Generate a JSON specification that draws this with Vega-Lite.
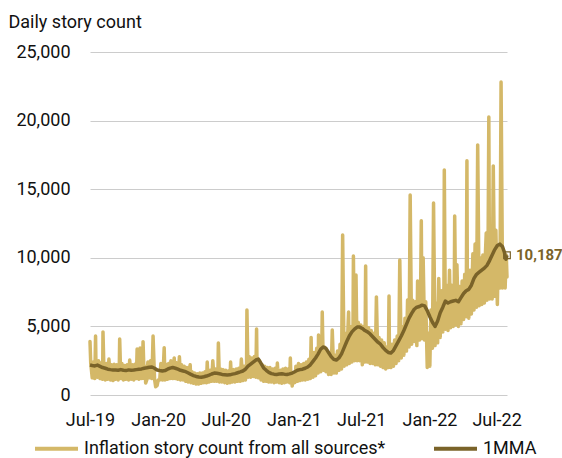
{
  "$schema": "https://vega.github.io/schema/vega-lite/v6.json",
  "width": 417,
  "height": 343,
  "autosize": {"type": "none"},
  "padding": {"left": 90, "top": 52, "right": 55, "bottom": 63},
  "background": "white",
  "config": {"font": "Roboto", "view": {"stroke": null}},
  "datasets": {
    "daily": [
      {"t":"2019-07-01","v":3900},{"t":"2019-07-03","v":2300},{"t":"2019-07-07","v":1250},{"t":"2019-07-10","v":2400},{"t":"2019-07-14","v":1200},{"t":"2019-07-16","v":4300},{"t":"2019-07-17","v":2300},{"t":"2019-07-21","v":1300},{"t":"2019-07-24","v":2500},{"t":"2019-07-28","v":1200},{"t":"2019-07-31","v":2350},
      {"t":"2019-08-04","v":1150},{"t":"2019-08-05","v":4600},{"t":"2019-08-07","v":2400},{"t":"2019-08-11","v":1100},{"t":"2019-08-14","v":2300},{"t":"2019-08-18","v":1150},{"t":"2019-08-21","v":2620},{"t":"2019-08-25","v":1100},{"t":"2019-08-28","v":2200},
      {"t":"2019-09-01","v":1050},{"t":"2019-09-04","v":2250},{"t":"2019-09-08","v":1150},{"t":"2019-09-11","v":2200},{"t":"2019-09-15","v":1100},{"t":"2019-09-18","v":2150},{"t":"2019-09-19","v":4080},{"t":"2019-09-22","v":1200},{"t":"2019-09-25","v":2300},{"t":"2019-09-29","v":1100},
      {"t":"2019-10-02","v":2150},{"t":"2019-10-06","v":1150},{"t":"2019-10-09","v":2200},{"t":"2019-10-13","v":1100},{"t":"2019-10-16","v":2550},{"t":"2019-10-20","v":1150},{"t":"2019-10-23","v":2200},{"t":"2019-10-27","v":1100},{"t":"2019-10-30","v":2250},
      {"t":"2019-11-03","v":1200},{"t":"2019-11-05","v":3350},{"t":"2019-11-06","v":2300},{"t":"2019-11-10","v":1150},{"t":"2019-11-13","v":3430},{"t":"2019-11-17","v":1200},{"t":"2019-11-20","v":2350},{"t":"2019-11-21","v":3890},{"t":"2019-11-24","v":1200},{"t":"2019-11-27","v":2100},{"t":"2019-11-28","v":870},
      {"t":"2019-12-01","v":1100},{"t":"2019-12-04","v":2400},{"t":"2019-12-08","v":1250},{"t":"2019-12-11","v":2500},{"t":"2019-12-15","v":1200},{"t":"2019-12-18","v":4300},{"t":"2019-12-22","v":1150},{"t":"2019-12-25","v":600},{"t":"2019-12-29","v":700},
      {"t":"2020-01-01","v":1100},{"t":"2020-01-05","v":1100},{"t":"2020-01-08","v":2300},{"t":"2020-01-12","v":1100},{"t":"2020-01-15","v":2200},{"t":"2020-01-17","v":3450},{"t":"2020-01-19","v":1100},{"t":"2020-01-22","v":2250},{"t":"2020-01-26","v":1150},{"t":"2020-01-29","v":2300},
      {"t":"2020-02-02","v":1200},{"t":"2020-02-04","v":2500},{"t":"2020-02-05","v":2350},{"t":"2020-02-09","v":1200},{"t":"2020-02-12","v":2400},{"t":"2020-02-13","v":2700},{"t":"2020-02-16","v":1200},{"t":"2020-02-19","v":2350},{"t":"2020-02-23","v":1150},{"t":"2020-02-26","v":2300},{"t":"2020-02-27","v":2790},
      {"t":"2020-03-01","v":1100},{"t":"2020-03-04","v":2200},{"t":"2020-03-08","v":1100},{"t":"2020-03-11","v":2100},{"t":"2020-03-15","v":1000},{"t":"2020-03-18","v":2000},{"t":"2020-03-22","v":950},{"t":"2020-03-25","v":1900},{"t":"2020-03-27","v":2200},{"t":"2020-03-29","v":900},
      {"t":"2020-04-01","v":1700},{"t":"2020-04-05","v":850},{"t":"2020-04-08","v":1600},{"t":"2020-04-12","v":800},{"t":"2020-04-15","v":1550},{"t":"2020-04-19","v":800},{"t":"2020-04-22","v":1600},{"t":"2020-04-26","v":850},{"t":"2020-04-29","v":1600},
      {"t":"2020-05-03","v":900},{"t":"2020-05-06","v":1700},{"t":"2020-05-10","v":900},{"t":"2020-05-12","v":2400},{"t":"2020-05-13","v":1800},{"t":"2020-05-17","v":950},{"t":"2020-05-20","v":1800},{"t":"2020-05-24","v":1000},{"t":"2020-05-27","v":2500},{"t":"2020-05-31","v":1000},
      {"t":"2020-06-03","v":1900},{"t":"2020-06-07","v":1000},{"t":"2020-06-10","v":2000},{"t":"2020-06-11","v":3790},{"t":"2020-06-14","v":950},{"t":"2020-06-17","v":1900},{"t":"2020-06-21","v":950},{"t":"2020-06-24","v":1850},{"t":"2020-06-28","v":900},
      {"t":"2020-07-01","v":1800},{"t":"2020-07-05","v":850},{"t":"2020-07-08","v":1750},{"t":"2020-07-12","v":900},{"t":"2020-07-14","v":2400},{"t":"2020-07-15","v":1800},{"t":"2020-07-19","v":950},{"t":"2020-07-22","v":1850},{"t":"2020-07-26","v":950},{"t":"2020-07-29","v":1900},
      {"t":"2020-08-02","v":1000},{"t":"2020-08-05","v":1950},{"t":"2020-08-09","v":1000},{"t":"2020-08-12","v":2620},{"t":"2020-08-16","v":1050},{"t":"2020-08-19","v":2100},{"t":"2020-08-23","v":1100},{"t":"2020-08-26","v":2300},{"t":"2020-08-27","v":6200},{"t":"2020-08-30","v":1300},
      {"t":"2020-09-02","v":2800},{"t":"2020-09-06","v":1300},{"t":"2020-09-09","v":2700},{"t":"2020-09-13","v":1350},{"t":"2020-09-16","v":2800},{"t":"2020-09-20","v":1300},{"t":"2020-09-22","v":4810},{"t":"2020-09-23","v":2700},{"t":"2020-09-27","v":1250},{"t":"2020-09-30","v":2500},
      {"t":"2020-10-04","v":1100},{"t":"2020-10-07","v":2200},{"t":"2020-10-11","v":1000},{"t":"2020-10-14","v":2100},{"t":"2020-10-18","v":1000},{"t":"2020-10-21","v":2000},{"t":"2020-10-25","v":950},{"t":"2020-10-28","v":2000},
      {"t":"2020-11-01","v":950},{"t":"2020-11-04","v":1900},{"t":"2020-11-08","v":900},{"t":"2020-11-11","v":1950},{"t":"2020-11-15","v":950},{"t":"2020-11-17","v":2330},{"t":"2020-11-18","v":1900},{"t":"2020-11-22","v":900},{"t":"2020-11-25","v":1800},{"t":"2020-11-29","v":850},
      {"t":"2020-12-02","v":1900},{"t":"2020-12-06","v":900},{"t":"2020-12-09","v":1950},{"t":"2020-12-13","v":950},{"t":"2020-12-16","v":1900},{"t":"2020-12-20","v":900},{"t":"2020-12-22","v":2700},{"t":"2020-12-23","v":1800},{"t":"2020-12-27","v":650},{"t":"2020-12-30","v":1500},
      {"t":"2021-01-03","v":900},{"t":"2021-01-06","v":2100},{"t":"2021-01-10","v":1000},{"t":"2021-01-13","v":2300},{"t":"2021-01-17","v":1050},{"t":"2021-01-20","v":2200},{"t":"2021-01-24","v":1100},{"t":"2021-01-27","v":2300},{"t":"2021-01-31","v":1100},
      {"t":"2021-02-03","v":2400},{"t":"2021-02-07","v":1150},{"t":"2021-02-10","v":2600},{"t":"2021-02-14","v":1200},{"t":"2021-02-16","v":4200},{"t":"2021-02-17","v":2700},{"t":"2021-02-21","v":1300},{"t":"2021-02-24","v":3100},{"t":"2021-02-28","v":1400},
      {"t":"2021-03-03","v":3400},{"t":"2021-03-07","v":1600},{"t":"2021-03-08","v":4370},{"t":"2021-03-10","v":3700},{"t":"2021-03-14","v":1700},{"t":"2021-03-17","v":3900},{"t":"2021-03-18","v":6050},{"t":"2021-03-21","v":1800},{"t":"2021-03-24","v":3500},{"t":"2021-03-28","v":1700},{"t":"2021-03-31","v":3200},
      {"t":"2021-04-04","v":1500},{"t":"2021-04-07","v":3000},{"t":"2021-04-11","v":1500},{"t":"2021-04-14","v":4740},{"t":"2021-04-18","v":1600},{"t":"2021-04-21","v":2900},{"t":"2021-04-25","v":1600},{"t":"2021-04-28","v":3200},
      {"t":"2021-05-02","v":1800},{"t":"2021-05-05","v":3700},{"t":"2021-05-09","v":1900},{"t":"2021-05-12","v":11660},{"t":"2021-05-16","v":2100},{"t":"2021-05-19","v":4500},{"t":"2021-05-23","v":2200},{"t":"2021-05-26","v":4600},{"t":"2021-05-28","v":6050},{"t":"2021-05-30","v":2300},
      {"t":"2021-06-02","v":5000},{"t":"2021-06-06","v":2400},{"t":"2021-06-09","v":5200},{"t":"2021-06-10","v":10130},{"t":"2021-06-13","v":2500},{"t":"2021-06-16","v":5500},{"t":"2021-06-17","v":8750},{"t":"2021-06-20","v":2500},{"t":"2021-06-23","v":5300},{"t":"2021-06-27","v":2500},{"t":"2021-06-30","v":5100},
      {"t":"2021-07-04","v":2200},{"t":"2021-07-07","v":5000},{"t":"2021-07-11","v":2400},{"t":"2021-07-13","v":9400},{"t":"2021-07-14","v":5100},{"t":"2021-07-18","v":2400},{"t":"2021-07-21","v":4900},{"t":"2021-07-25","v":2300},{"t":"2021-07-28","v":4700},
      {"t":"2021-08-01","v":2300},{"t":"2021-08-04","v":4500},{"t":"2021-08-08","v":2200},{"t":"2021-08-11","v":7150},{"t":"2021-08-15","v":2200},{"t":"2021-08-18","v":4200},{"t":"2021-08-22","v":2100},{"t":"2021-08-25","v":4000},{"t":"2021-08-29","v":2000},
      {"t":"2021-09-01","v":3800},{"t":"2021-09-05","v":1900},{"t":"2021-09-08","v":3500},{"t":"2021-09-12","v":2000},{"t":"2021-09-14","v":7220},{"t":"2021-09-15","v":3600},{"t":"2021-09-19","v":2000},{"t":"2021-09-22","v":3700},{"t":"2021-09-26","v":2100},{"t":"2021-09-29","v":4000},
      {"t":"2021-10-03","v":2300},{"t":"2021-10-06","v":4300},{"t":"2021-10-10","v":2500},{"t":"2021-10-13","v":9840},{"t":"2021-10-17","v":2700},{"t":"2021-10-20","v":5000},{"t":"2021-10-24","v":2900},{"t":"2021-10-27","v":5600},{"t":"2021-10-31","v":3200},
      {"t":"2021-11-03","v":6930},{"t":"2021-11-07","v":3500},{"t":"2021-11-10","v":14580},{"t":"2021-11-14","v":3700},{"t":"2021-11-17","v":6900},{"t":"2021-11-21","v":3900},{"t":"2021-11-24","v":6800},{"t":"2021-11-28","v":3600},{"t":"2021-11-30","v":8300},
      {"t":"2021-12-01","v":7000},{"t":"2021-12-05","v":4000},{"t":"2021-12-08","v":7300},{"t":"2021-12-10","v":12700},{"t":"2021-12-12","v":4100},{"t":"2021-12-15","v":10000},{"t":"2021-12-19","v":4000},{"t":"2021-12-22","v":6800},{"t":"2021-12-26","v":2000},{"t":"2021-12-29","v":4500},
      {"t":"2022-01-02","v":2100},{"t":"2022-01-05","v":6200},{"t":"2022-01-09","v":3400},{"t":"2022-01-12","v":14000},{"t":"2022-01-16","v":3600},{"t":"2022-01-19","v":6700},{"t":"2022-01-23","v":3800},{"t":"2022-01-26","v":8500},{"t":"2022-01-30","v":4200},
      {"t":"2022-02-02","v":7600},{"t":"2022-02-06","v":4600},{"t":"2022-02-09","v":7900},{"t":"2022-02-10","v":16400},{"t":"2022-02-13","v":4800},{"t":"2022-02-16","v":8000},{"t":"2022-02-20","v":4700},{"t":"2022-02-23","v":7800},{"t":"2022-02-24","v":9100},{"t":"2022-02-27","v":4900},
      {"t":"2022-03-02","v":8000},{"t":"2022-03-06","v":5000},{"t":"2022-03-09","v":8100},{"t":"2022-03-10","v":13050},{"t":"2022-03-13","v":5100},{"t":"2022-03-16","v":9500},{"t":"2022-03-20","v":5000},{"t":"2022-03-23","v":7900},{"t":"2022-03-27","v":5200},{"t":"2022-03-30","v":8300},
      {"t":"2022-04-03","v":5500},{"t":"2022-04-06","v":8800},{"t":"2022-04-10","v":5700},{"t":"2022-04-12","v":17080},{"t":"2022-04-13","v":9000},{"t":"2022-04-17","v":5600},{"t":"2022-04-20","v":9100},{"t":"2022-04-24","v":5900},{"t":"2022-04-27","v":9300},{"t":"2022-04-28","v":10300},
      {"t":"2022-05-01","v":6200},{"t":"2022-05-04","v":11000},{"t":"2022-05-08","v":6400},{"t":"2022-05-11","v":18230},{"t":"2022-05-15","v":6500},{"t":"2022-05-18","v":10000},{"t":"2022-05-22","v":6600},{"t":"2022-05-25","v":10200},{"t":"2022-05-29","v":6700},
      {"t":"2022-06-01","v":10400},{"t":"2022-06-03","v":11800},{"t":"2022-06-05","v":6900},{"t":"2022-06-08","v":10800},{"t":"2022-06-10","v":20270},{"t":"2022-06-12","v":7000},{"t":"2022-06-15","v":11200},{"t":"2022-06-19","v":7000},{"t":"2022-06-22","v":16700},{"t":"2022-06-26","v":7200},{"t":"2022-06-29","v":12000},
      {"t":"2022-07-03","v":6600},{"t":"2022-07-06","v":10800},{"t":"2022-07-10","v":7800},{"t":"2022-07-13","v":22820},{"t":"2022-07-17","v":7800},{"t":"2022-07-20","v":10500},{"t":"2022-07-24","v":7800},{"t":"2022-07-27","v":10200},{"t":"2022-07-29","v":8600}
    ],
    "mma": [
      {"t":"2019-07-01","v":2190},{"t":"2019-07-07","v":2150},{"t":"2019-07-14","v":2120},{"t":"2019-07-21","v":2180},{"t":"2019-07-28","v":2090},
      {"t":"2019-08-04","v":2000},{"t":"2019-08-11","v":1950},{"t":"2019-08-18","v":1880},{"t":"2019-08-25","v":1850},
      {"t":"2019-09-01","v":1830},{"t":"2019-09-08","v":1820},{"t":"2019-09-15","v":1800},{"t":"2019-09-22","v":1850},{"t":"2019-09-29","v":1800},
      {"t":"2019-10-06","v":1780},{"t":"2019-10-13","v":1830},{"t":"2019-10-20","v":1800},{"t":"2019-10-27","v":1820},
      {"t":"2019-11-03","v":1850},{"t":"2019-11-10","v":1880},{"t":"2019-11-17","v":1900},{"t":"2019-11-24","v":1950},
      {"t":"2019-12-01","v":1980},{"t":"2019-12-08","v":2020},{"t":"2019-12-15","v":2040},{"t":"2019-12-22","v":1950},{"t":"2019-12-29","v":1820},
      {"t":"2020-01-05","v":1780},{"t":"2020-01-12","v":1750},{"t":"2020-01-19","v":1780},{"t":"2020-01-26","v":1880},
      {"t":"2020-02-02","v":1960},{"t":"2020-02-09","v":2000},{"t":"2020-02-16","v":1950},{"t":"2020-02-23","v":1880},
      {"t":"2020-03-01","v":1800},{"t":"2020-03-08","v":1750},{"t":"2020-03-15","v":1700},{"t":"2020-03-22","v":1600},{"t":"2020-03-29","v":1500},
      {"t":"2020-04-05","v":1420},{"t":"2020-04-12","v":1350},{"t":"2020-04-19","v":1310},{"t":"2020-04-26","v":1300},
      {"t":"2020-05-03","v":1330},{"t":"2020-05-10","v":1380},{"t":"2020-05-17","v":1450},{"t":"2020-05-24","v":1530},{"t":"2020-05-31","v":1600},
      {"t":"2020-06-07","v":1580},{"t":"2020-06-14","v":1550},{"t":"2020-06-21","v":1500},{"t":"2020-06-28","v":1480},
      {"t":"2020-07-05","v":1460},{"t":"2020-07-12","v":1470},{"t":"2020-07-19","v":1520},{"t":"2020-07-26","v":1560},
      {"t":"2020-08-02","v":1620},{"t":"2020-08-09","v":1680},{"t":"2020-08-16","v":1750},{"t":"2020-08-23","v":1880},{"t":"2020-08-30","v":2100},
      {"t":"2020-09-06","v":2250},{"t":"2020-09-13","v":2400},{"t":"2020-09-20","v":2550},{"t":"2020-09-27","v":2620},
      {"t":"2020-10-04","v":2300},{"t":"2020-10-11","v":1970},{"t":"2020-10-18","v":1800},{"t":"2020-10-25","v":1650},
      {"t":"2020-11-01","v":1560},{"t":"2020-11-08","v":1520},{"t":"2020-11-15","v":1500},{"t":"2020-11-22","v":1530},{"t":"2020-11-29","v":1550},
      {"t":"2020-12-06","v":1520},{"t":"2020-12-13","v":1500},{"t":"2020-12-20","v":1540},{"t":"2020-12-27","v":1600},
      {"t":"2021-01-03","v":1700},{"t":"2021-01-10","v":1800},{"t":"2021-01-17","v":1850},{"t":"2021-01-24","v":1880},{"t":"2021-01-31","v":1950},
      {"t":"2021-02-07","v":2040},{"t":"2021-02-14","v":2200},{"t":"2021-02-21","v":2450},{"t":"2021-02-28","v":2700},
      {"t":"2021-03-07","v":3000},{"t":"2021-03-14","v":3350},{"t":"2021-03-21","v":3500},{"t":"2021-03-28","v":3400},
      {"t":"2021-04-04","v":3100},{"t":"2021-04-11","v":2800},{"t":"2021-04-18","v":2600},{"t":"2021-04-25","v":2550},
      {"t":"2021-05-02","v":2700},{"t":"2021-05-09","v":3000},{"t":"2021-05-16","v":3450},{"t":"2021-05-23","v":3900},{"t":"2021-05-30","v":4300},
      {"t":"2021-06-06","v":4600},{"t":"2021-06-13","v":4800},{"t":"2021-06-20","v":4950},{"t":"2021-06-27","v":4950},
      {"t":"2021-07-04","v":4850},{"t":"2021-07-11","v":4700},{"t":"2021-07-18","v":4600},{"t":"2021-07-25","v":4450},
      {"t":"2021-08-01","v":4250},{"t":"2021-08-08","v":4050},{"t":"2021-08-15","v":3850},{"t":"2021-08-22","v":3700},{"t":"2021-08-29","v":3450},
      {"t":"2021-09-05","v":3250},{"t":"2021-09-12","v":3100},{"t":"2021-09-19","v":3060},{"t":"2021-09-26","v":3250},
      {"t":"2021-10-03","v":3600},{"t":"2021-10-10","v":3950},{"t":"2021-10-17","v":4300},{"t":"2021-10-24","v":4700},{"t":"2021-10-31","v":5150},
      {"t":"2021-11-07","v":5600},{"t":"2021-11-14","v":5950},{"t":"2021-11-21","v":6250},{"t":"2021-11-28","v":6400},
      {"t":"2021-12-05","v":6450},{"t":"2021-12-12","v":6550},{"t":"2021-12-19","v":6500},{"t":"2021-12-26","v":6150},
      {"t":"2022-01-02","v":5700},{"t":"2022-01-09","v":5300},{"t":"2022-01-16","v":5000},{"t":"2022-01-23","v":5400},{"t":"2022-01-30","v":6000},
      {"t":"2022-02-06","v":6400},{"t":"2022-02-13","v":6850},{"t":"2022-02-20","v":6700},{"t":"2022-02-27","v":6800},
      {"t":"2022-03-06","v":6850},{"t":"2022-03-13","v":6900},{"t":"2022-03-20","v":6800},{"t":"2022-03-27","v":7100},
      {"t":"2022-04-03","v":7400},{"t":"2022-04-10","v":7600},{"t":"2022-04-17","v":7700},{"t":"2022-04-24","v":8000},
      {"t":"2022-05-01","v":8500},{"t":"2022-05-08","v":8800},{"t":"2022-05-15","v":8950},{"t":"2022-05-22","v":9100},{"t":"2022-05-29","v":9250},
      {"t":"2022-06-05","v":9450},{"t":"2022-06-12","v":9800},{"t":"2022-06-19","v":10200},{"t":"2022-06-26","v":10600},
      {"t":"2022-07-03","v":10900},{"t":"2022-07-10","v":11000},{"t":"2022-07-17","v":10800},{"t":"2022-07-22","v":10400},{"t":"2022-07-26","v":9900},{"t":"2022-07-29","v":10187}
    ]
  },
  "encoding": {
    "x": {
      "field": "t",
      "type": "temporal",
      "scale": {
        "domain": [{"year": 2019, "month": 7, "date": 1}, {"year": 2022, "month": 7, "date": 29}],
        "nice": false
      },
      "axis": {
        "title": null,
        "format": "%b-%y",
        "values": [
          {"year": 2019, "month": 7, "date": 1}, {"year": 2020, "month": 1, "date": 1},
          {"year": 2020, "month": 7, "date": 1}, {"year": 2021, "month": 1, "date": 1},
          {"year": 2021, "month": 7, "date": 1}, {"year": 2022, "month": 1, "date": 1},
          {"year": 2022, "month": 7, "date": 1}
        ],
        "labelFontSize": 18,
        "labelColor": "#111111",
        "labelPadding": 16,
        "labelFlush": false,
        "labelOverlap": false,
        "ticks": false,
        "domain": false,
        "grid": false
      }
    },
    "y": {
      "field": "v",
      "type": "quantitative",
      "scale": {"domain": [0, 25000], "nice": false},
      "axis": {
        "title": "Daily story count",
        "titleAngle": 0,
        "titleAlign": "left",
        "titleBaseline": "alphabetic",
        "titleX": -82,
        "titleY": -25,
        "titleFontSize": 18,
        "titleFontWeight": "normal",
        "titleColor": "#111111",
        "values": [0, 5000, 10000, 15000, 20000, 25000],
        "format": ",d",
        "labelFontSize": 18,
        "labelColor": "#111111",
        "labelPadding": 20,
        "ticks": false,
        "domain": false,
        "grid": true,
        "gridColor": "#cccccc",
        "gridWidth": 1
      }
    }
  },
  "layer": [
    {
      "data": {"name": "daily"},
      "mark": {"type": "line", "strokeWidth": 3.5, "strokeJoin": "round", "strokeCap": "round"},
      "encoding": {
        "color": {
          "datum": "Inflation story count from all sources*",
          "type": "nominal",
          "scale": {
            "domain": ["Inflation story count from all sources*", "1MMA"],
            "range": ["#D4B868", "#7A6329"]
          },
          "legend": {
            "orient": "none",
            "legendX": -57,
            "legendY": 373,
            "direction": "horizontal",
            "title": null,
            "symbolType": "stroke",
            "symbolSize": 1849,
            "symbolStrokeWidth": 4,
            "labelFontSize": 18,
            "labelColor": "#111111",
            "labelOffset": 4,
            "labelLimit": 0,
            "columnPadding": 40
          }
        }
      }
    },
    {
      "data": {"name": "mma"},
      "mark": {"type": "line", "strokeWidth": 3.5, "strokeJoin": "round"},
      "encoding": {
        "color": {"datum": "1MMA", "type": "nominal"}
      }
    },
    {
      "data": {"name": "mma"},
      "transform": [
        {"joinaggregate": [{"op": "max", "field": "t", "as": "tmax"}]},
        {"filter": "+datum.t === +datum.tmax"}
      ],
      "mark": {"type": "point", "shape": "square", "filled": false, "size": 44, "stroke": "#7A6329", "strokeWidth": 1.2, "opacity": 1}
    },
    {
      "data": {"name": "mma"},
      "transform": [
        {"joinaggregate": [{"op": "max", "field": "t", "as": "tmax"}]},
        {"filter": "+datum.t === +datum.tmax"}
      ],
      "mark": {"type": "text", "align": "left", "baseline": "middle", "dx": 9, "fontSize": 15, "fontWeight": "bold", "color": "#7A6329"},
      "encoding": {
        "text": {"field": "v", "type": "quantitative", "format": ",d"}
      }
    }
  ]
}
